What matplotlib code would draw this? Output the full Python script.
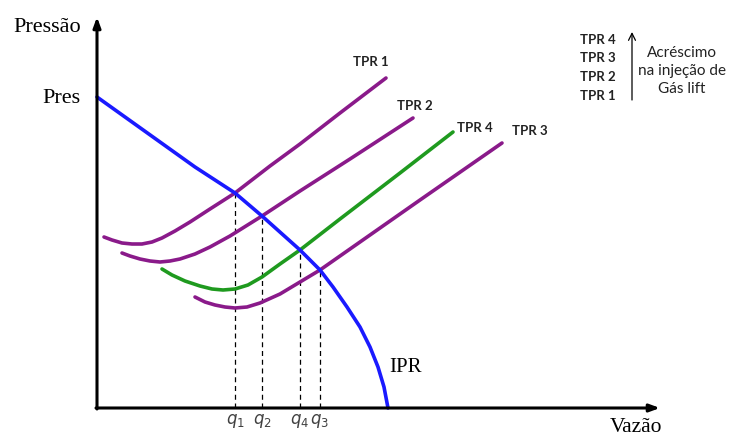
import matplotlib.pyplot as plt

# Inflow (IPR) and outflow (TPR) curves, flow q vs pressure p (arbitrary units)
ipr_q = [0.0, 2.8, 6.3, 9.8, 13.8, 16.5, 20.3, 22.3, 23.6, 25.0, 26.3, 27.3, 28.1, 28.7, 29.1]
ipr_p = [31.1, 29.1, 26.6, 24.1, 21.5, 19.2, 15.8, 13.8, 12.1, 10.1, 8.1, 6.1, 4.1, 2.1, 0.0]

tpr1_q = [0.7, 1.5, 2.5, 3.5, 4.5, 5.5, 6.5, 7.8, 9.3, 11.3, 13.8, 17.3, 20.3, 24.3, 28.9]
tpr1_p = [17.1, 16.8, 16.5, 16.4, 16.4, 16.6, 17.0, 17.7, 18.6, 19.9, 21.5, 24.2, 26.4, 29.5, 33.0]

tpr2_q = [2.5, 3.3, 4.3, 5.3, 6.3, 7.3, 8.3, 9.8, 11.3, 13.3, 16.5, 20.3, 25.3, 31.6]
tpr2_p = [15.5, 15.2, 14.9, 14.7, 14.6, 14.7, 14.9, 15.4, 16.1, 17.2, 19.2, 21.7, 24.9, 29.0]

tpr4_q = [6.5, 7.5, 8.8, 10.3, 11.5, 12.6, 13.8, 15.1, 16.5, 18.3, 20.3, 24.3, 30.3, 35.6]
tpr4_p = [13.9, 13.3, 12.7, 12.2, 11.9, 11.8, 11.9, 12.3, 13.1, 14.4, 15.8, 18.9, 23.5, 27.6]

tpr3_q = [9.8, 10.8, 11.8, 12.8, 13.8, 15.0, 16.3, 18.3, 20.3, 22.3, 26.3, 32.3, 40.5]
tpr3_p = [11.1, 10.6, 10.3, 10.1, 10.0, 10.1, 10.5, 11.4, 12.6, 13.8, 16.6, 20.8, 26.5]

# operating points (IPR x TPR intersections)
op_labels = ["$q_1$", "$q_2$", "$q_4$", "$q_3$"]
op_q = [13.8, 16.5, 20.3, 22.3]
op_p = [21.5, 19.2, 15.8, 13.8]

legend_tpr = ["TPR 4", "TPR 3", "TPR 2", "TPR 1"]

PURPLE = "#8a1a8a"
GREEN = "#1f9a1f"
BLUE = "#1a1aff"

SERIF = "Liberation Serif"
SANS = "Lato"

plt.rcParams["mathtext.fontset"] = "dejavusans"

fig = plt.figure(figsize=(7.29, 4.37), dpi=100)
ax = fig.add_axes([0, 0, 1, 1])
ax.set_xlim(-9.7, 63.2)
ax.set_ylim(-2.9, 40.8)
ax.axis("off")

# axes with arrow heads
arrow = dict(arrowstyle="-|>,head_length=0.6,head_width=0.22", lw=2.2,
             color="black", shrinkA=0, shrinkB=0)
ax.annotate("", xy=(56.3, 0), xytext=(-0.1, 0), arrowprops=arrow)
ax.annotate("", xy=(0, 39.1), xytext=(0, -0.1), arrowprops=arrow)

# dashed drops to the flow axis
ax.vlines(op_q, 0, op_p, colors="black", linestyles=(0, (4, 3)), lw=0.9)
for lab, q in zip(op_labels, op_q):
    ax.text(q, -1.3, lab, ha="center", va="center", fontsize=12, color="#404040")

lw = 2.6
style = dict(lw=lw, solid_capstyle="round", solid_joinstyle="round")
ax.plot(tpr1_q, tpr1_p, color=PURPLE, **style)
ax.plot(tpr2_q, tpr2_p, color=PURPLE, **style)
ax.plot(tpr3_q, tpr3_p, color=PURPLE, **style)
ax.plot(tpr4_q, tpr4_p, color=GREEN, **style)
ax.plot(ipr_q, ipr_p, color=BLUE, **style)

# curve labels
bold = dict(fontsize=9.5, fontweight="bold", family=SANS, color="#222222",
            ha="center", va="center")
ax.text(27.4, 34.6, "TPR 1", **bold)
ax.text(31.8, 30.2, "TPR 2", **bold)
ax.text(37.8, 28.0, "TPR 4", **bold)
ax.text(43.3, 27.7, "TPR 3", **bold)
ax.text(30.9, 4.0, "IPR", fontsize=15, family=SERIF, ha="center", va="center")

# axis titles
ax.text(-5.0, 38.0, "Pressão", fontsize=16, family=SERIF, ha="center", va="center")
ax.text(-3.6, 30.9, "Pres", fontsize=16, family=SERIF, ha="center", va="center")
ax.text(53.9, -1.9, "Vazão", fontsize=15.5, family=SERIF, ha="center", va="center")

# key in upper right corner
for i, lab in enumerate(legend_tpr):
    ax.text(50.1, 36.8 - 1.85 * i, lab, **bold)
ax.annotate("", xy=(53.5, 37.6), xytext=(53.5, 30.8),
            arrowprops=dict(arrowstyle="->,head_length=0.5,head_width=0.25",
                            lw=0.9, color="black", shrinkA=0, shrinkB=0))
ax.text(58.5, 33.7, "Acréscimo\nna injeção de\nGás lift", fontsize=11,
        family=SANS, ha="center", va="center", linespacing=1.38, color="#222222")

fig.savefig("out.png", dpi=100)
